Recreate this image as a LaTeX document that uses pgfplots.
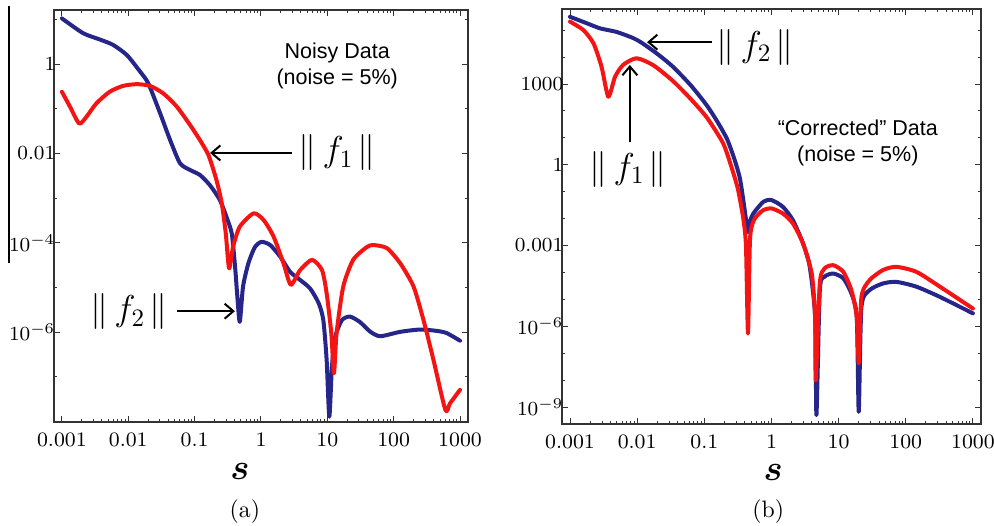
\documentclass[border=0pt]{standalone}
\usepackage{fontspec}
\usepackage{bm}
\usepackage{pgfplots}
\pgfplotsset{compat=1.18}
\usetikzlibrary{arrows.meta}
\newfontfamily\helv{Liberation Sans}
\definecolor{navy}{RGB}{38,38,138}
\definecolor{myred}{RGB}{245,20,20}
\pgfplotsset{
  every axis/.append style={
    scale only axis,
    xmin=7.6e-4, xmax=1320, clip=false,
    axis line style={black!80, line width=0.5pt},
    tick align=inside,
    major tick length=2.4pt, minor tick length=1.2pt,
    every tick/.style={black!80, line width=0.4pt},
    xtick={1e-3,1e-2,1e-1,1,10,100,1000},
    xticklabels={0.001,0.01,0.1,1,10,100,1000},
    tick label style={font=\fontsize{8.2}{9}\selectfont},
    xticklabel style={yshift=-1pt},
    yticklabel style={xshift=4pt},
  },
}
\tikzset{mycurve/.style={line width=1.6pt, line join=round, line cap=round, smooth, tension=0.4}}
\newcommand{\nrm}[1]{{\fontsize{14}{16}\selectfont$\|\,f_{#1}\mkern2mu\|$}}
\begin{document}
\begin{tikzpicture}
\useasboundingbox (-21.6pt,-41.6pt) rectangle (376pt,168.8pt);
\draw[line width=0.6pt] (-18pt,63.6pt) -- (-18pt,166.4pt);
% ---------------- (a)
\begin{loglogaxis}[at={(0pt,0pt)}, anchor=south west,
  width=165.6pt, height=164.8pt,
  ymin=9.8e-9, ymax=16.2,
  ytick={1e-6,1e-4,1e-2,1},
  yticklabels={$10^{-6}$,$10^{-4}$,$0.01$,$1$},
  minor ytick={1e-8,1e-7,1e-5,1e-3,0.1,10},
]
\addplot[mycurve, navy] coordinates {
(1.00e-3,1.05e1) (2.09e-3,4.90) (3.72e-3,3.55) (5.89e-3,2.69) (9.55e-3,1.585)
(1.51e-2,0.676) (2.00e-2,0.372) (3.02e-2,7.94e-2) (4.27e-2,2.00e-2) (6.03e-2,6.03e-3)
(8.51e-2,4.27e-3) (0.120,3.31e-3) (0.170,1.95e-3) (0.240,9.12e-4) (0.302,3.80e-4)
(0.363,1.62e-4) (0.407,2.95e-5) (0.437,7.41e-6) (0.479,1.70e-6) (0.537,1.05e-5)
(0.646,3.47e-5) (0.813,8.13e-5) (1.023,1.05e-4) (1.380,8.91e-5) (1.950,4.90e-5)
(2.754,2.24e-5) (3.890,1.48e-5) (5.495,9.55e-6) (7.413,4.47e-6) (8.710,1.86e-6)
(9.772,2.40e-7) (10.72,1.29e-8) (11.75,1.70e-7) (13.18,7.94e-7) (16.60,1.86e-6)
(21.88,2.24e-6) (30.90,1.70e-6) (44.67,1.02e-6) (63.10,8.13e-7) (125.9,1.02e-6)
(251.2,1.15e-6) (446.7,1.07e-6) (631.0,9.55e-7) (1000,6.46e-7)
};
\addplot[mycurve, myred] coordinates {
(1e-3,0.240) (1.32e-3,0.112) (1.82e-3,4.68e-2) (2.34e-3,6.61e-2) (3.31e-3,0.132)
(5.25e-3,0.240) (8.32e-3,0.324) (1.35e-2,0.355) (2.14e-2,0.324) (3.39e-2,0.219)
(5.37e-2,0.112) (8.51e-2,4.37e-2) (0.120,2.00e-2) (0.162,9.12e-3) (0.214,2.51e-3)
(0.257,7.59e-4) (0.295,1.62e-4) (0.331,2.69e-5) (0.380,8.13e-5) (0.479,2.29e-4)
(0.776,4.57e-4) (1.096,3.24e-4) (1.549,1.38e-4) (2.188,3.47e-5) (2.818,1.15e-5)
(3.890,2.45e-5) (5.888,4.17e-5) (8.318,2.45e-5) (9.772,7.41e-6) (11.48,9.55e-7)
(12.59,1.20e-7) (13.80,9.55e-7) (17.38,1.05e-5) (24.55,4.17e-5) (39.81,8.13e-5)
(50.12,8.91e-5) (79.43,7.59e-5) (125.9,3.47e-5) (199.5,1.05e-5) (281.8,1.86e-6)
(398.1,2.40e-7) (602.6,1.82e-8) (707.9,2.57e-8) (1000,5.13e-8)
};
\node[align=center, font=\helv\fontsize{8.6}{10.4}\selectfont] at (rel axis cs:0.684,0.864) {Noisy Data\\(noise = 5\%)};
\node at (rel axis cs:0.684,0.653) {\nrm{1}};
\draw[line width=0.8pt, -{Straight Barb[length=3.5pt,width=6pt]}] (rel axis cs:0.575,0.653) -- (rel axis cs:0.377,0.653);
\node at (rel axis cs:0.181,0.267) {\nrm{2}};
\draw[line width=0.8pt, -{Straight Barb[length=3.5pt,width=6pt]}] (rel axis cs:0.297,0.269) -- (rel axis cs:0.437,0.269);
\node at (rel axis cs:0.449,-0.121) {\fontsize{14}{16}\selectfont$\bm{s}$};
\node at (rel axis cs:0.461,-0.218) {\fontsize{9.5}{11}\selectfont(a)};
\end{loglogaxis}
% ---------------- (b)
\begin{loglogaxis}[at={(203.2pt,-0.8pt)}, anchor=south west,
  width=167.6pt, height=166pt,
  ymin=2.34e-10, ymax=6.17e5,
  ytick={1e-9,1e-6,1e-3,1,1000},
  yticklabels={$10^{-9}$,$10^{-6}$,$0.001$,$1$,$1000$},
  minor ytick={1e-8,1e-7,1e-5,1e-4,1e-2,0.1,10,100,1e4,1e5},
]
\addplot[mycurve, navy] coordinates {
(1e-3,3.16e5) (1.78e-3,1.82e5) (2.82e-3,1.17e5) (4.90e-3,8.71e4) (8.71e-3,5.13e4)
(1.175e-2,3.39e4) (2.0e-2,1.32e4) (3.39e-2,4.47e3) (6.31e-2,891) (0.1096,158)
(0.1585,38.0) (0.2188,8.91) (0.2818,1.585) (0.3388,0.316) (0.3802,5.01e-2)
(0.4266,6.31e-3) (0.4467,3.16e-3) (0.4786,7.94e-3) (0.537,1.55e-2)
(0.759,4.27e-2) (1.0,4.90e-2) (1.479,2.75e-2) (2.089,8.71e-3) (2.951,1.20e-3)
(3.715,1.62e-4) (4.467,2.24e-6) (4.677,5.01e-10) (5.248,2.19e-5) (6.166,6.92e-5)
(8.318,9.12e-5) (11.75,6.03e-5) (15.49,1.66e-5) (18.62,2.24e-6) (19.95,6.61e-10)
(21.88,5.25e-6) (28.84,2.19e-5) (45.71,3.89e-5) (72.44,4.47e-5) (144.5,2.95e-5)
(323.6,1.23e-5) (1000,3.02e-6)
};
\addplot[mycurve, myred] coordinates {
(1e-3,2.09e5) (1.58e-3,1.02e5) (2.24e-3,3.24e4) (2.95e-3,4.37e3) (3.72e-3,339)
(4.68e-3,1.86e3) (6.17e-3,5.13e3) (9.77e-3,9.12e3) (1.74e-2,5.01e3) (3.39e-2,1.32e3)
(6.31e-2,275) (0.1096,56.2) (0.1905,6.31) (0.2512,0.891) (0.3162,0.126)
(0.3802,1.0e-2) (0.4169,1.0e-3)
(0.447,5.37e-7) (0.4786,1.58e-3) (0.537,7.94e-3) (0.631,1.41e-2) (0.759,2.09e-2)
(1.0,2.40e-2) (1.479,1.55e-2) (2.089,6.61e-3) (2.951,1.20e-3) (3.981,9.12e-5)
(4.467,2.24e-6) (4.571,1.0e-8) (5.248,3.89e-5) (6.166,1.41e-4) (8.318,1.86e-4)
(11.75,1.05e-4) (15.49,2.19e-5) (18.62,2.24e-6) (19.95,4.17e-8) (21.88,1.23e-5)
(28.84,5.13e-5) (45.71,1.23e-4) (72.44,1.62e-4) (144.5,1.05e-4) (323.6,2.95e-5)
(1000,4.57e-6)
};
\node[align=center, font=\helv\fontsize{8.6}{10.4}\selectfont] at (rel axis cs:0.706,0.677) {“Corrected” Data\\(noise = 5\%)};
\node at (rel axis cs:0.461,0.908) {\nrm{2}};
\draw[line width=0.8pt, -{Straight Barb[length=3.5pt,width=6pt]}] (rel axis cs:0.358,0.920) -- (rel axis cs:0.203,0.920);
\node at (rel axis cs:0.158,0.614) {\nrm{1}};
\draw[line width=0.8pt, -{Straight Barb[length=3.5pt,width=6pt]}] (rel axis cs:0.162,0.680) -- (rel axis cs:0.162,0.865);
\node at (rel axis cs:0.504,-0.116) {\fontsize{14}{16}\selectfont$\bm{s}$};
\node at (rel axis cs:0.492,-0.212) {\fontsize{9.5}{11}\selectfont(b)};
\end{loglogaxis}
\end{tikzpicture}
\end{document}
